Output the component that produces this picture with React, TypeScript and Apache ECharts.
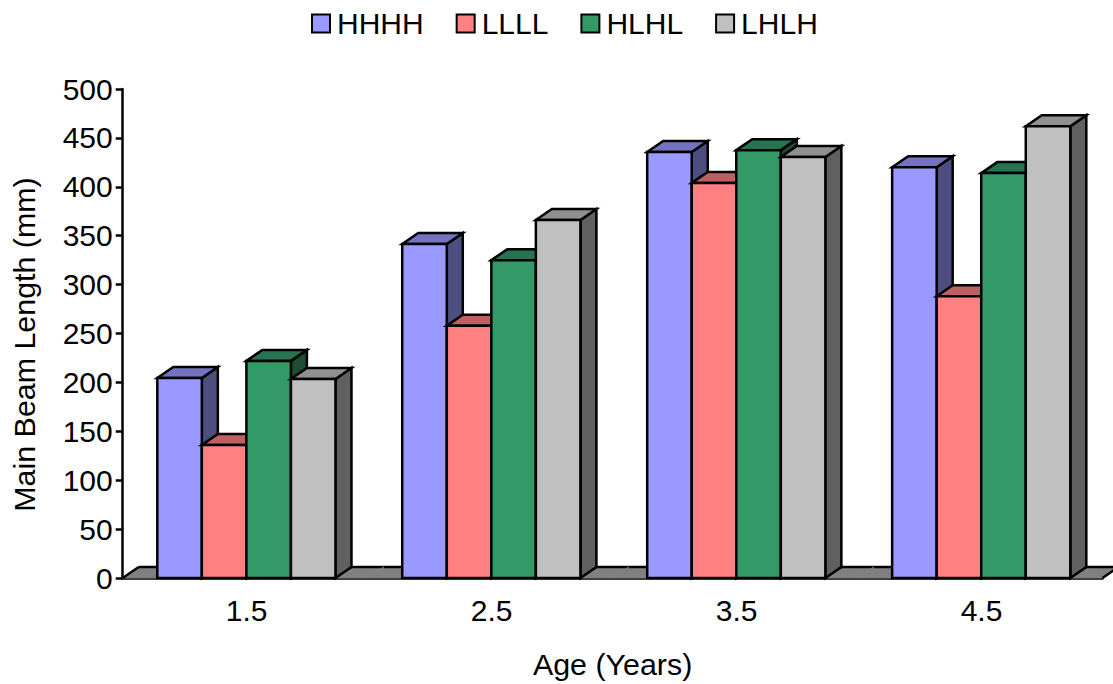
import React, { useEffect, useRef } from "react";
import * as echarts from "echarts";

const categories = ["1.5", "2.5", "3.5", "4.5"];
const hhhh = [204.5, 341.5, 435.5, 420];
const llll = [136, 258, 404, 288];
const hlhl = [222, 325, 437.5, 414];
const lhlh = [203.5, 366, 430.5, 462];
const seriesNames = ["HHHH", "LLLL", "HLHL", "LHLH"];
const seriesValues = [hhhh, llll, hlhl, lhlh];
const frontColors = ["#9999FF", "#FF8080", "#339966", "#C0C0C0"];
const topColors = ["#7373BF", "#BF6060", "#267350", "#909090"];
const sideColors = ["#4D4D80", "#804040", "#1A4D33", "#606060"];

const FONT = "Liberation Sans";
const DEPTH_X = 16;
const DEPTH_Y = 11;
const BAR_RATIO = 44.6 / 245.25;
const GROUP_SHIFT = 1.2;
const STROKE = 2.5;
const line = { stroke: "#000", lineWidth: STROKE, lineJoin: "miter" as const };

function floorItem(params: any, api: any) {
  const [x0, y0] = api.coord([api.value(0), 0]);
  const w = api.size([1, 0])[0];
  const l = x0 - w / 2;
  const r = x0 + w / 2;
  const top = y0 - DEPTH_Y;
  const children: any[] = [
    {
      type: "polygon",
      shape: { points: [[l, y0], [l + DEPTH_X, top], [r + DEPTH_X, top], [r, y0]] },
      style: { fill: "#808080", stroke: "#808080", lineWidth: 1 },
    },
    { type: "line", shape: { x1: l + DEPTH_X, y1: top, x2: r + DEPTH_X, y2: top }, style: line },
  ];
  if (params.dataIndex === 0) {
    children.push({ type: "line", shape: { x1: l, y1: y0, x2: l + DEPTH_X, y2: top }, style: line });
  }
  if (params.dataIndex === categories.length - 1) {
    children.push({ type: "line", shape: { x1: r, y1: y0, x2: r + DEPTH_X, y2: top }, style: line });
  }
  return { type: "group", children };
}

function barRenderer(index: number) {
  return (_params: any, api: any) => {
    const [cx, y0] = api.coord([api.value(0), 0]);
    const [, yv] = api.coord([api.value(0), api.value(1)]);
    const bw = api.size([1, 0])[0] * BAR_RATIO;
    const l = cx + GROUP_SHIFT + (index - seriesNames.length / 2) * bw;
    const r = l + bw;
    return {
      type: "group",
      children: [
        {
          type: "polygon",
          shape: { points: [[r, y0], [r + DEPTH_X, y0 - DEPTH_Y], [r + DEPTH_X, yv - DEPTH_Y], [r, yv]] },
          style: { fill: sideColors[index], ...line },
        },
        {
          type: "polygon",
          shape: { points: [[l, yv], [l + DEPTH_X, yv - DEPTH_Y], [r + DEPTH_X, yv - DEPTH_Y], [r, yv]] },
          style: { fill: topColors[index], ...line },
        },
        {
          type: "rect",
          shape: { x: l, y: yv, width: bw, height: y0 - yv },
          style: { fill: frontColors[index], ...line },
        },
      ],
    };
  };
}

export default function App() {
  const ref = useRef<HTMLDivElement>(null);
  useEffect(() => {
    document.body.style.margin = "0";
    const chart = echarts.init(ref.current!, undefined, { renderer: "svg" });
    const textStyle = { fontFamily: FONT, fontSize: 30, color: "#000" };
    const titleStyle = { ...textStyle, fontSize: 30.4 };
    chart.setOption({
      animation: false,
      textStyle: { fontFamily: FONT },
      legend: {
        data: seriesNames,
        left: 311,
        top: 8.5,
        icon: "rect",
        itemWidth: 18,
        itemHeight: 18,
        itemGap: 32,
        padding: 0,
        textStyle: { ...textStyle, padding: [0, 0, 0, 2] },
      },
      grid: { left: 122.7, right: 10.5, top: 89, bottom: 106, containLabel: false, outerBoundsMode: "none" },
      xAxis: {
        type: "category",
        data: categories,
        boundaryGap: true,
        name: "Age (Years)",
        nameLocation: "middle",
        nameGap: 71,
        nameTextStyle: titleStyle,
        axisLine: { lineStyle: { color: "#000", width: STROKE } },
        axisTick: { length: 8, lineStyle: { color: "#000", width: STROKE } },
        axisLabel: { ...textStyle, margin: 17, padding: [0, 0, 0, 3] },
        splitLine: { show: false },
      },
      yAxis: {
        type: "value",
        min: 0,
        max: 500,
        interval: 50,
        name: "Main Beam Length (mm)",
        nameLocation: "middle",
        nameGap: 84,
        nameTextStyle: { ...titleStyle, padding: [0, 22, 0, 0] },
        axisLine: { show: true, lineStyle: { color: "#000", width: STROKE } },
        axisTick: { show: true, length: 7, lineStyle: { color: "#000", width: STROKE } },
        axisLabel: { ...textStyle, margin: 10 },
        splitLine: { show: false },
      },
      series: [
        {
          type: "custom",
          name: "floor",
          renderItem: floorItem,
          encode: { x: 0, y: 1 },
          data: categories.map((_, i) => [i, 0]),
          silent: true,
          z: 1,
        },
        ...seriesNames.map((name, s) => ({
          type: "custom",
          name,
          renderItem: barRenderer(s),
          encode: { x: 0, y: 1 },
          itemStyle: { color: frontColors[s], borderColor: "#000", borderWidth: 2 },
          data: seriesValues[s].map((v, i) => [i, v]),
          z: 2 + s,
        })),
      ],
    });
    return () => chart.dispose();
  }, []);
  return <div ref={ref} style={{ width: 1113, height: 684 }} />;
}
